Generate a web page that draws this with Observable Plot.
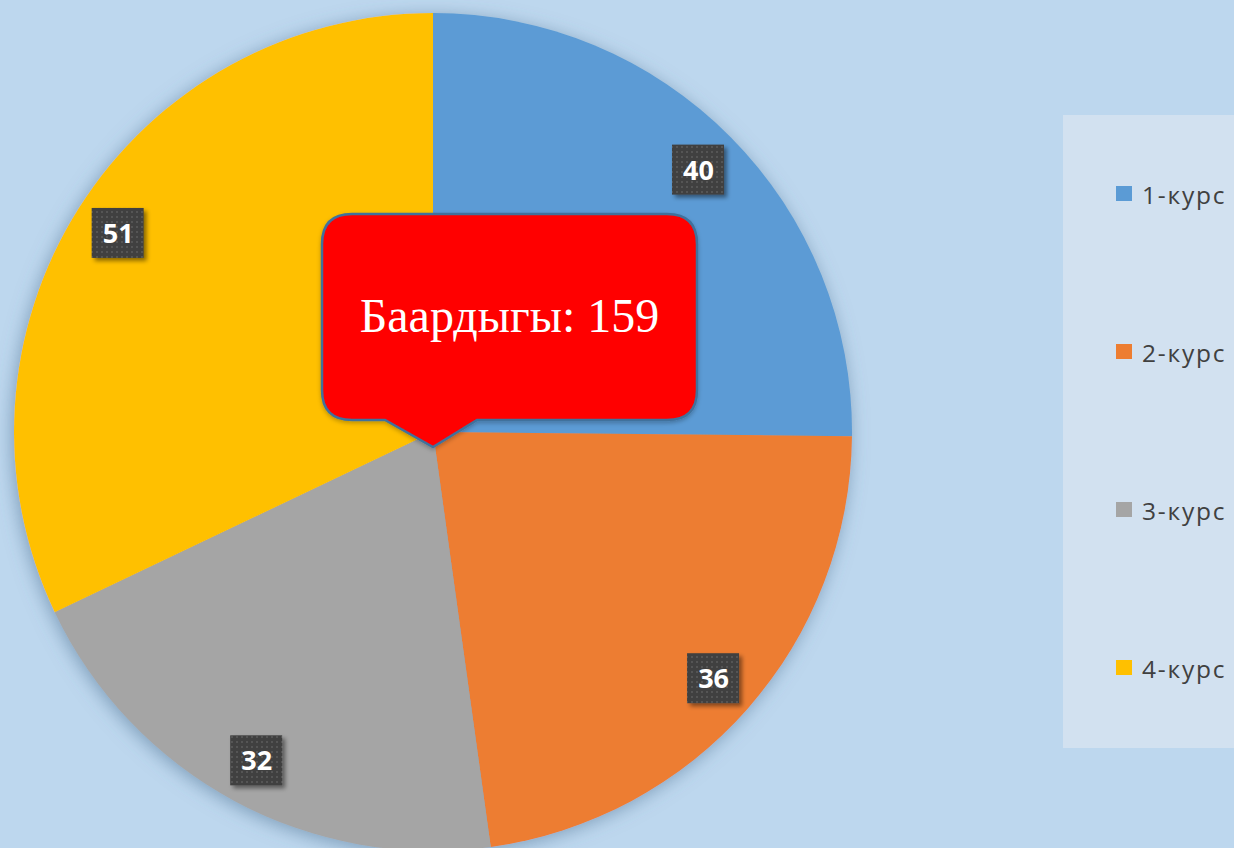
<!DOCTYPE html>
<html><head><meta charset="utf-8">
<script src="https://cdn.jsdelivr.net/npm/d3@7"></script>
<script src="https://cdn.jsdelivr.net/npm/@observablehq/plot@0.6"></script>
<style>
body{margin:0;background:#BDD7EE;overflow:hidden}
#chart{position:relative;width:1234px;height:848px}
</style>
</head><body><div id="chart"></div>
<script>
const courses = ["1-курс", "2-курс", "3-курс", "4-курс"];
const students = [40, 36, 32, 51];
const colors = ["#5B9BD5", "#ED7D31", "#A5A5A5", "#FFC000"];
const totalLabel = "Баардыгы";

const W = 1234, H = 848, R = 419, CX = 433, CY = 432;
const data = courses.map((c, i) => ({course: c, value: students[i]}));
const arcs = d3.pie().sort(null).value(d => d.value)(data);
const total = d3.sum(students);
const labelR = 0.89;
const labels = arcs.map(a => {
  const m = (a.startAngle + a.endAngle) / 2;
  return {course: a.data.course, value: a.data.value, x: labelR * Math.sin(m), y: labelR * Math.cos(m)};
});

function slices(index, scales) {
  const {x, y, color} = scales;
  const px = x(0), py = y(0), r = x(1) - x(0);
  const g = d3.create("svg:g");
  const defs = g.append("defs");
  const f = defs.append("filter").attr("id", "pieShadow").attr("x", "-20%").attr("y", "-20%").attr("width", "140%").attr("height", "140%");
  f.append("feDropShadow").attr("dx", -2).attr("dy", 3).attr("stdDeviation", 9).attr("flood-color", "#4d6e8f").attr("flood-opacity", 0.55);
  const f2 = defs.append("filter").attr("id", "boxShadow").attr("x", "-30%").attr("y", "-30%").attr("width", "160%").attr("height", "160%");
  f2.append("feDropShadow").attr("dx", 3).attr("dy", 3).attr("stdDeviation", 2).attr("flood-color", "#000").attr("flood-opacity", 0.45);
  const f3 = defs.append("filter").attr("id", "calloutShadow").attr("x", "-10%").attr("y", "-10%").attr("width", "120%").attr("height", "130%");
  f3.append("feDropShadow").attr("dx", 0).attr("dy", 2).attr("stdDeviation", 2).attr("flood-color", "#000").attr("flood-opacity", 0.25);
  const p = defs.append("pattern").attr("id", "dots").attr("width", 5).attr("height", 5).attr("patternUnits", "userSpaceOnUse");
  p.append("rect").attr("width", 5).attr("height", 5).attr("fill", "#3f3f3f");
  p.append("rect").attr("x", 1).attr("y", 1).attr("width", 2).attr("height", 2).attr("fill", "#555");
  const arc = d3.arc().innerRadius(0).outerRadius(r);
  g.append("g").attr("transform", `translate(${px},${py})`).attr("filter", "url(#pieShadow)")
    .selectAll("path").data(arcs).join("path")
    .attr("d", arc).attr("fill", d => color(d.data.course));
  return g.node();
}

function callout(index, scales) {
  const {x, y} = scales;
  const px = x(0), py = y(0);
  const x0 = px - 111, x1 = px + 264, y0 = py - 218, y1 = py - 12, rr = 30;
  const tipY = py + 15, tl = px - 48, tr = px + 44;
  const d = `M${x0 + rr},${y0} H${x1 - rr} Q${x1},${y0} ${x1},${y0 + rr} V${y1 - rr} Q${x1},${y1} ${x1 - rr},${y1} H${tr} L${px},${tipY} L${tl},${y1} H${x0 + rr} Q${x0},${y1} ${x0},${y1 - rr} V${y0 + rr} Q${x0},${y0} ${x0 + rr},${y0} Z`;
  const g = d3.create("svg:g");
  g.append("path").attr("d", d).attr("fill", "#FF0000").attr("stroke", "#41719C").attr("stroke-width", 2.5).attr("filter", "url(#calloutShadow)");
  g.append("text").attr("x", (x0 + x1) / 2).attr("y", (y0 + y1) / 2 - 2)
    .attr("text-anchor", "middle").attr("dominant-baseline", "central")
    .attr("font-family", "'Liberation Serif', 'Times New Roman', serif").attr("font-size", 48).attr("fill", "#fff")
    .text(`${totalLabel}: ${total}`);
  return g.node();
}

function labelBoxes(index, scales) {
  const {x, y} = scales;
  const g = d3.create("svg:g");
  g.selectAll("rect").data(labels).join("rect")
    .attr("x", d => x(d.x) - 26).attr("y", d => y(d.y) - 25)
    .attr("width", 52).attr("height", 50)
    .attr("fill", "url(#dots)").attr("filter", "url(#boxShadow)");
  return g.node();
}

function legend(index, scales) {
  const {color} = scales;
  const g = d3.create("svg:g");
  g.append("rect").attr("x", 1063).attr("y", 115).attr("width", 200).attr("height", 633).attr("fill", "#D2E1F0");
  const rows = g.selectAll("g").data(courses).join("g")
    .attr("transform", (d, i) => `translate(1116,${194 + i * 158})`);
  rows.append("rect").attr("x", 0).attr("y", -8).attr("width", 16).attr("height", 15).attr("fill", d => color(d));
  rows.append("text").attr("x", 26).attr("y", 0).attr("dominant-baseline", "central")
    .attr("text-anchor", "start")
    .attr("font-family", "'Open Sans', sans-serif").attr("font-size", 24.5).attr("letter-spacing", 1.8)
    .attr("fill", "#404040").text(d => d);
  return g.node();
}

const chart = Plot.plot({
  width: W, height: H,
  margin: 0,
  style: {background: "transparent", overflow: "visible"},
  x: {type: "linear", domain: [-CX / R, (W - CX) / R], range: [0, W], axis: null},
  y: {type: "linear", domain: [-(H - CY) / R, CY / R], range: [H, 0], axis: null},
  color: {type: "ordinal", domain: courses, range: colors, legend: false},
  marks: [
    Plot.dot(labels, {x: "x", y: "y", fill: "course", r: 0}),
    slices,
    callout,
    labelBoxes,
    Plot.text(labels, {x: "x", y: "y", text: d => String(d.value), fill: "white", fontSize: 27, fontWeight: "bold", fontFamily: "'Open Sans', sans-serif", dy: 1}),
    legend
  ]
});
document.getElementById("chart").appendChild(chart);
</script>
</body></html>
